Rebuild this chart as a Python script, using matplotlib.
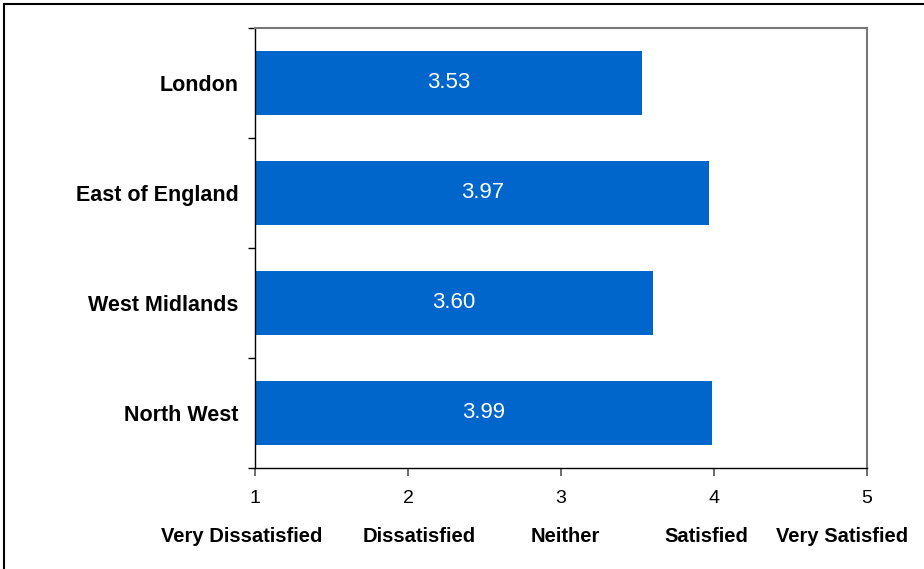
import matplotlib
matplotlib.use("Agg")
import matplotlib.pyplot as plt
from matplotlib.lines import Line2D
import numpy as np

regions = ["London", "East of England", "West Midlands", "North West"]
scores = [3.53, 3.97, 3.60, 3.99]
x_ticks = [1, 2, 3, 4, 5]
scale_labels = ["Very Dissatisfied", "Dissatisfied", "Neither", "Satisfied", "Very Satisfied"]
scale_label_pos = [0.915, 2.075, 3.026, 3.948, 4.837]

plt.rcParams['font.family'] = ['Liberation Sans', 'DejaVu Sans']

fig = plt.figure(figsize=(9.24, 5.69), dpi=100)
ax = fig.add_axes([255/924, 1-468/569, (867-255)/924, (468-28)/569])

ypos = np.arange(len(regions))
base = 1
ax.barh(ypos, [s - base for s in scores], left=base, height=0.59, color="#0066CC")
for y, s in zip(ypos, scores):
    ax.text(base + (s - base)/2, y, f"{s:.2f}", color="white", ha="center", va="center", fontsize=16)

ax.set_xlim(1, 5)
ax.set_ylim(len(regions) - 0.5, -0.5)
ax.set_xticks(x_ticks)
ax.set_xticklabels([str(t) for t in x_ticks], fontsize=14)
ax.set_yticks(ypos)
ax.set_yticklabels(regions, fontsize=15.5, fontweight="bold")
ax.tick_params(axis="y", length=0, pad=12)
ax.set_yticks(np.arange(-0.5, len(regions) + 0.5, 1), minor=True)
ax.tick_params(axis="y", which="minor", length=5, width=1, direction="out")
ax.tick_params(axis="x", length=6, width=1.2, direction="out", pad=10, color="#555555")

for sp in ["top", "right"]:
    ax.spines[sp].set_color("#777777")
    ax.spines[sp].set_linewidth(1.5)
for sp in ["left", "bottom"]:
    ax.spines[sp].set_color("black")
    ax.spines[sp].set_linewidth(1.0)

for p, lab in zip(scale_label_pos, scale_labels):
    ax.text(p, -(536 - 468 - 9) / 440, lab, transform=ax.get_xaxis_transform(), ha="center", va="top",
            fontsize=14.5, fontweight="bold")

fig.add_artist(Line2D([4/924, 4/924], [0, 1 - 4/569], transform=fig.transFigure, color="black", lw=1.5))
fig.add_artist(Line2D([4/924, 1], [1 - 4/569, 1 - 4/569], transform=fig.transFigure, color="black", lw=1.5))

fig.savefig("out.png", dpi=100)
